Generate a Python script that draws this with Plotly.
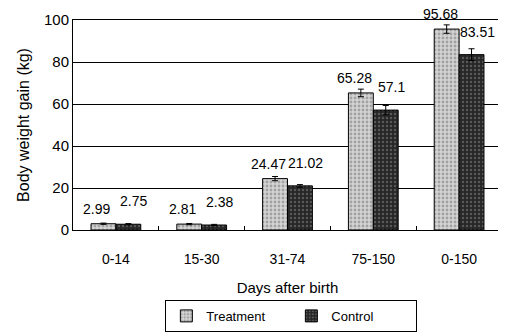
import plotly.graph_objects as go

categories = ["0-14", "15-30", "31-74", "75-150", "0-150"]
treatment = [2.99, 2.81, 24.47, 65.28, 95.68]
control = [2.75, 2.38, 21.02, 57.1, 83.51]
treatment_err = [0.3, 0.3, 1.0, 1.8, 2.0]
control_err = [0.3, 0.3, 0.6, 2.2, 2.8]
y_ticks = [0, 20, 40, 60, 80, 100]

FONT = "Liberation Sans, Arial, sans-serif"

fig = go.Figure()
fig.add_trace(go.Bar(
    name="Treatment", x=categories, y=treatment,
    error_y=dict(type="data", array=treatment_err, color="black", thickness=1, width=3),
    marker=dict(color="#c4c4c4", line=dict(color="black", width=1),
                pattern=dict(shape=".", bgcolor="#d4d4d4", fgcolor="#707070", size=4, solidity=0.4)),
))
fig.add_trace(go.Bar(
    name="Control", x=categories, y=control,
    error_y=dict(type="data", array=control_err, color="black", thickness=1, width=3),
    marker=dict(color="#303030", line=dict(color="black", width=1),
                pattern=dict(shape=".", bgcolor="#262626", fgcolor="#8a8a8a", size=4, solidity=0.3)),
))

# value labels above bars
for i, c in enumerate(categories):
    fig.add_annotation(x=c, y=treatment[i], text=str(treatment[i]), showarrow=False,
                       xshift=-19, yshift=15, yanchor="middle",
                       font=dict(family=FONT, size=14, color="black"))
    fig.add_annotation(x=c, y=control[i], text=str(control[i]), showarrow=False,
                       xshift=18, yshift=23, yanchor="middle",
                       font=dict(family=FONT, size=14, color="black"))

# page body has an 8px default margin, so the figure is sized to fit the window
fig.update_layout(
    width=498, height=325,
    margin=dict(l=65, r=4, t=12, b=103, autoexpand=False),
    paper_bgcolor="white", plot_bgcolor="white",
    barmode="group", bargap=0.42, bargroupgap=0,
    font=dict(family=FONT, size=14, color="black"),
    showlegend=True,
    legend=dict(orientation="h", x=0.509, xanchor="center", y=-0.333, yanchor="top",
                bordercolor="black", borderwidth=1, bgcolor="white",
                font=dict(family=FONT, size=13), itemwidth=30, tracegroupgap=0,
                entrywidth=80, entrywidthmode="pixels"),
    xaxis=dict(showline=True, linecolor="black", linewidth=1, mirror=True, automargin=False,
               ticks="inside", ticklen=4, tickcolor="black", tickson="boundaries",
               title=dict(text="Days after birth", font=dict(family=FONT, size=15), standoff=16),
               tickfont=dict(family=FONT, size=14), ticklabelstandoff=16),
    yaxis=dict(range=[0, 100], tickvals=y_ticks, showgrid=True, gridcolor="black", gridwidth=1,
               showline=True, linecolor="black", linewidth=1, mirror=True, zeroline=False,
               automargin=False, ticks="", tickfont=dict(family=FONT, size=15),
               title=dict(text="Body weight gain (kg)", font=dict(family=FONT, size=16), standoff=10)),
)

fig.write_html("out.html")
